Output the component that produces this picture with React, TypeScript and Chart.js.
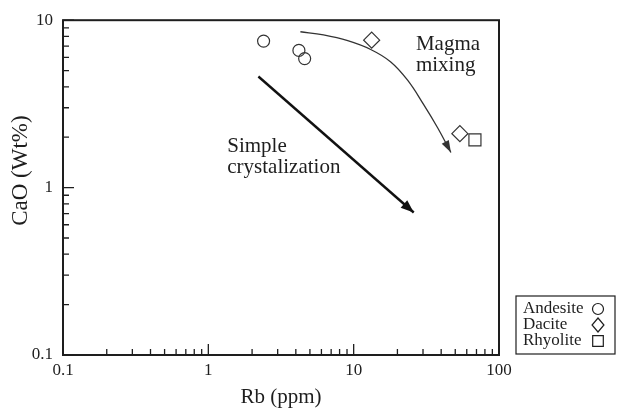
import React, { useEffect, useRef } from 'react';
import { Chart, registerables } from 'chart.js';

Chart.register(...registerables);

// ---- data ----
const ANDESITE_RB = [2.4, 4.2, 4.6];
const ANDESITE_CAO = [7.5, 6.6, 5.9];
const DACITE_RB = [13.3, 53.8];
const DACITE_CAO = [7.6, 2.1];
const RHYOLITE_RB = [68.3];
const RHYOLITE_CAO = [1.93];
const CRYST_RB = [2.21, 25.9];
const CRYST_CAO = [4.61, 0.71];
const MIXING_RB = [4.3, 6.2, 9.1, 13.1, 18.0, 23.5, 30.4, 37.9, 46.7];
const MIXING_CAO = [8.53, 8.16, 7.54, 6.68, 5.63, 4.38, 3.12, 2.27, 1.62];
const X_TICKS = [0.1, 1, 10, 100];
const Y_TICKS = [0.1, 1, 10];
const MINOR_MULTIPLIERS = [2, 3, 4, 5, 6, 7, 8, 9];
const ANNOTATIONS = [
  { lines: ['Simple', 'crystalization'], rb: 1.35, cao: 1.63 },
  { lines: ['Magma', 'mixing'], rb: 26.8, cao: 6.6 },
];
const X_TITLE = 'Rb (ppm)';
const Y_TITLE = 'CaO (Wt%)';

const FONT = '"Liberation Serif", "Times New Roman", serif';
const INK = '#1e1e1e';

const pts = (xs: number[], ys: number[]) => xs.map((x, i) => ({ x, y: ys[i] }));

function drawSymbol(ctx: CanvasRenderingContext2D, style: string, x: number, y: number, r: number) {
  ctx.beginPath();
  if (style === 'circle') {
    ctx.arc(x, y, r, 0, Math.PI * 2);
  } else if (style === 'rectRot') {
    ctx.moveTo(x, y - r);
    ctx.lineTo(x + r * 0.85, y);
    ctx.lineTo(x, y + r);
    ctx.lineTo(x - r * 0.85, y);
    ctx.closePath();
  } else {
    const h = r * Math.SQRT1_2;
    ctx.rect(x - h, y - h, 2 * h, 2 * h);
  }
  ctx.stroke();
}

const decorPlugin = {
  id: 'decor',
  afterDatasetsDraw(chart: any) {
    const { ctx, chartArea: a, scales } = chart;
    const xs = scales.x;
    const ys = scales.y;
    ctx.save();

    // arrowheads
    chart.data.datasets.forEach((ds: any, i: number) => {
      if (!ds.arrowHead) return;
      const els = chart.getDatasetMeta(i).data;
      const p = els[els.length - 1];
      const q = els[els.length - 2];
      const ang = Math.atan2(p.y - q.y, p.x - q.x);
      const [len, half] = ds.arrowHead;
      const bx = p.x - len * Math.cos(ang);
      const by = p.y - len * Math.sin(ang);
      ctx.beginPath();
      ctx.moveTo(p.x, p.y);
      ctx.lineTo(bx + half * Math.sin(ang), by - half * Math.cos(ang));
      ctx.lineTo(bx - half * Math.sin(ang), by + half * Math.cos(ang));
      ctx.closePath();
      ctx.fillStyle = ds.borderColor;
      ctx.fill();
    });

    // frame
    ctx.strokeStyle = INK;
    ctx.lineWidth = 2;
    ctx.strokeRect(a.left, a.top, a.width, a.height);

    // inward tick marks
    ctx.lineWidth = 1.3;
    ctx.beginPath();
    X_TICKS.forEach((d, k) => {
      const px = xs.getPixelForValue(d);
      ctx.moveTo(px, a.bottom);
      ctx.lineTo(px, a.bottom - 11);
      if (k < X_TICKS.length - 1) {
        MINOR_MULTIPLIERS.forEach((m) => {
          const mx = xs.getPixelForValue(d * m);
          ctx.moveTo(mx, a.bottom);
          ctx.lineTo(mx, a.bottom - 6);
        });
      }
    });
    Y_TICKS.forEach((d, k) => {
      const py = ys.getPixelForValue(d);
      ctx.moveTo(a.left, py);
      ctx.lineTo(a.left + 11, py);
      if (k < Y_TICKS.length - 1) {
        MINOR_MULTIPLIERS.forEach((m) => {
          const my = ys.getPixelForValue(d * m);
          ctx.moveTo(a.left, my);
          ctx.lineTo(a.left + 6, my);
        });
      }
    });
    ctx.stroke();

    // annotations
    ctx.fillStyle = INK;
    ctx.font = `21px ${FONT}`;
    ctx.textAlign = 'left';
    ctx.textBaseline = 'alphabetic';
    ANNOTATIONS.forEach((an) => {
      const px = xs.getPixelForValue(an.rb);
      const py = ys.getPixelForValue(an.cao);
      an.lines.forEach((t, j) => ctx.fillText(t, px, py + j * 21));
    });

    // axis titles
    ctx.textAlign = 'center';
    ctx.textBaseline = 'middle';
    ctx.fillText(X_TITLE, (a.left + a.right) / 2, a.bottom + 42);
    ctx.save();
    ctx.font = `23px ${FONT}`;
    ctx.translate(a.left - 42, (a.top + a.bottom) / 2 - 17);
    ctx.rotate(-Math.PI / 2);
    ctx.fillText(Y_TITLE, 0, 0);
    ctx.restore();

    // legend
    const bl = a.right + 17;
    const bt = a.bottom - 59;
    ctx.lineWidth = 1.2;
    ctx.strokeStyle = INK;
    ctx.strokeRect(bl, bt, 99, 58);
    ctx.font = `17px ${FONT}`;
    ctx.textAlign = 'left';
    const legendSets = chart.data.datasets.filter((d: any) => d.legendSymbol);
    legendSets.forEach((ds: any, j: number) => {
      const ry = bt + 13 + j * 16;
      ctx.fillStyle = INK;
      ctx.fillText(ds.label, bl + 7, ry);
      ctx.lineWidth = 1.2;
      drawSymbol(ctx, ds.pointStyle, bl + 82, ry, ds.legendSymbol);
    });

    ctx.restore();
  },
};

export default function App() {
  const ref = useRef<HTMLCanvasElement | null>(null);

  useEffect(() => {
    if (!ref.current) return;
    const tickFont = { family: FONT, size: 17 };
    const chart = new Chart(ref.current, {
      type: 'scatter',
      data: {
        datasets: [
          {
            label: 'Simple crystalization',
            data: pts(CRYST_RB, CRYST_CAO),
            showLine: true,
            borderColor: '#111',
            borderWidth: 2.4,
            pointRadius: 0,
            arrowHead: [13, 5],
          } as any,
          {
            label: 'Magma mixing',
            data: pts(MIXING_RB, MIXING_CAO),
            showLine: true,
            borderColor: '#333',
            borderWidth: 1.3,
            tension: 0.4,
            pointRadius: 0,
            arrowHead: [12, 4],
          } as any,
          {
            label: 'Andesite',
            data: pts(ANDESITE_RB, ANDESITE_CAO),
            pointStyle: 'circle',
            pointRadius: 6,
            borderColor: '#333',
            borderWidth: 1.2,
            backgroundColor: 'rgba(255,255,255,0)',
            legendSymbol: 5.5,
          } as any,
          {
            label: 'Dacite',
            data: pts(DACITE_RB, DACITE_CAO),
            pointStyle: 'rectRot',
            pointRadius: 8,
            borderColor: '#333',
            borderWidth: 1.2,
            backgroundColor: 'rgba(255,255,255,0)',
            legendSymbol: 7,
          } as any,
          {
            label: 'Rhyolite',
            data: pts(RHYOLITE_RB, RHYOLITE_CAO),
            pointStyle: 'rect',
            pointRadius: 8.5,
            borderColor: '#333',
            borderWidth: 1.2,
            backgroundColor: 'rgba(255,255,255,0)',
            legendSymbol: 7.5,
          } as any,
        ],
      },
      options: {
        animation: false,
        responsive: false,
        devicePixelRatio: 1,
        layout: { padding: { top: 16, right: 118, left: 0, bottom: 0 } },
        plugins: { legend: { display: false }, tooltip: { enabled: false } },
        scales: {
          x: {
            type: 'logarithmic',
            min: 0.1,
            max: 100,
            grid: { display: false, drawTicks: false, tickLength: 0 },
            border: { display: false },
            afterBuildTicks: (s: any) => {
              s.ticks = X_TICKS.map((v) => ({ value: v }));
            },
            afterFit: (s: any) => {
              s.height = 53;
            },
            ticks: {
              callback: (v: any) => String(v),
              font: tickFont,
              color: INK,
              padding: 5,
              maxRotation: 0,
              autoSkip: false,
            },
          },
          y: {
            type: 'logarithmic',
            min: 0.1,
            max: 10,
            grid: { display: false, drawTicks: false, tickLength: 0 },
            border: { display: false },
            afterBuildTicks: (s: any) => {
              s.ticks = Y_TICKS.map((v) => ({ value: v }));
            },
            afterFit: (s: any) => {
              s.width = 63;
            },
            ticks: {
              callback: (v: any) => String(v),
              font: tickFont,
              color: INK,
              padding: 10,
              autoSkip: false,
            },
          },
        },
      } as any,
      plugins: [decorPlugin],
    });
    return () => chart.destroy();
  }, []);

  return (
    <div style={{ position: 'absolute', left: 0, top: 0, width: 617, height: 408, background: '#fff' }}>
      <canvas ref={ref} width={617} height={408} style={{ display: 'block' }} />
    </div>
  );
}
